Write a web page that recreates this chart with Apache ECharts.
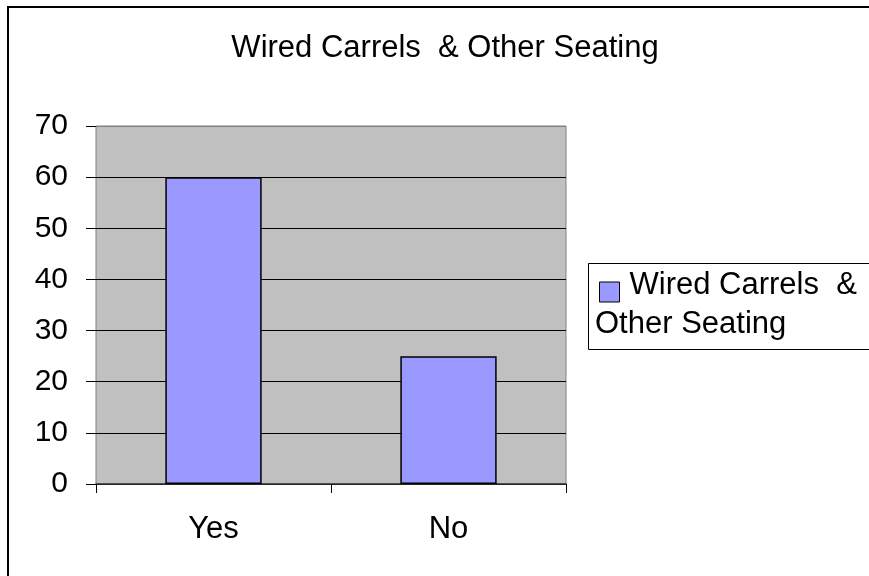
<!DOCTYPE html>
<html>
<head>
<meta charset="utf-8">
<script src="https://cdn.jsdelivr.net/npm/echarts@6/dist/echarts.min.js"></script>
<style>
html,body{margin:0;padding:0;background:#fff;}
#c{width:869px;height:576px;}
</style>
</head>
<body>
<div id="c"></div>
<script>
const titleText = 'Wired Carrels  & Other Seating';
const categories = ['Yes', 'No'];
const seriesName = 'Wired Carrels  & Other Seating';
const values = [60, 25];
const yTicks = [0, 10, 20, 30, 40, 50, 60, 70];

const FONT = 'Arial, "Liberation Sans", sans-serif';
const chart = echarts.init(document.getElementById('c'), null, {renderer: 'canvas'});
chart.setOption({
  animation: false,
  backgroundColor: '#fff',
  title: {
    text: titleText,
    left: 440,
    textAlign: 'center',
    top: 28,
    textStyle: {fontFamily: FONT, fontSize: 31, fontWeight: 'normal', color: '#000'}
  },
  legend: {
    left: 599,
    top: 270,
    padding: 0,
    itemWidth: 20,
    itemHeight: 20,
    icon: 'rect',
    data: [seriesName],
    formatter: function () { return '{a|Wired Carrels  &}'; },
    textStyle: {
      fontFamily: FONT, fontSize: 31, color: '#000',
      rich: {a: {fontFamily: FONT, fontSize: 31, color: '#000', padding: [0, 0, 13, 5]}}
    },
    itemStyle: {borderColor: '#000', borderWidth: 1}
  },
  graphic: [
    {type: 'rect', shape: {x: 8, y: 7, width: 1000, height: 1000}, style: {fill: 'none', stroke: '#000', lineWidth: 2}, silent: true, z: 100},
    {type: 'rect', shape: {x: 588.5, y: 263.5, width: 400, height: 86}, style: {fill: '#fff', stroke: '#000', lineWidth: 1}, silent: true, z: -1},
    {type: 'text', x: 595, y: 309, style: {text: 'Other Seating', fontFamily: FONT, fontSize: 31, fill: '#000', verticalAlign: 'top'}, silent: true}
  ],
  grid: {
    left: 96, top: 126, right: 303, bottom: 92,
    show: true, backgroundColor: '#c0c0c0', borderColor: '#808080', borderWidth: 1
  },
  xAxis: {
    type: 'category',
    data: categories,
    axisLine: {show: true, lineStyle: {color: '#333', width: 1.5}},
    axisTick: {show: true, length: 9, lineStyle: {color: '#000'}},
    axisLabel: {fontFamily: FONT, fontSize: 31, color: '#000', margin: 30}
  },
  yAxis: {
    type: 'value',
    min: yTicks[0],
    max: yTicks[yTicks.length - 1],
    interval: 10,
    axisLine: {show: false},
    axisTick: {show: true, length: 10, lineStyle: {color: '#000'}},
    axisLabel: {fontFamily: FONT, fontSize: 30, color: '#000', margin: 28},
    splitLine: {show: true, lineStyle: {color: ['#000','#000','#000','#000','#000','#000','#000','#808080'], width: 1}}
  },
  series: [{
    name: seriesName,
    type: 'bar',
    data: values,
    barWidth: '41%',
    itemStyle: {color: '#9999ff', borderColor: '#000', borderWidth: 1.5}
  }]
});
</script>
</body>
</html>
